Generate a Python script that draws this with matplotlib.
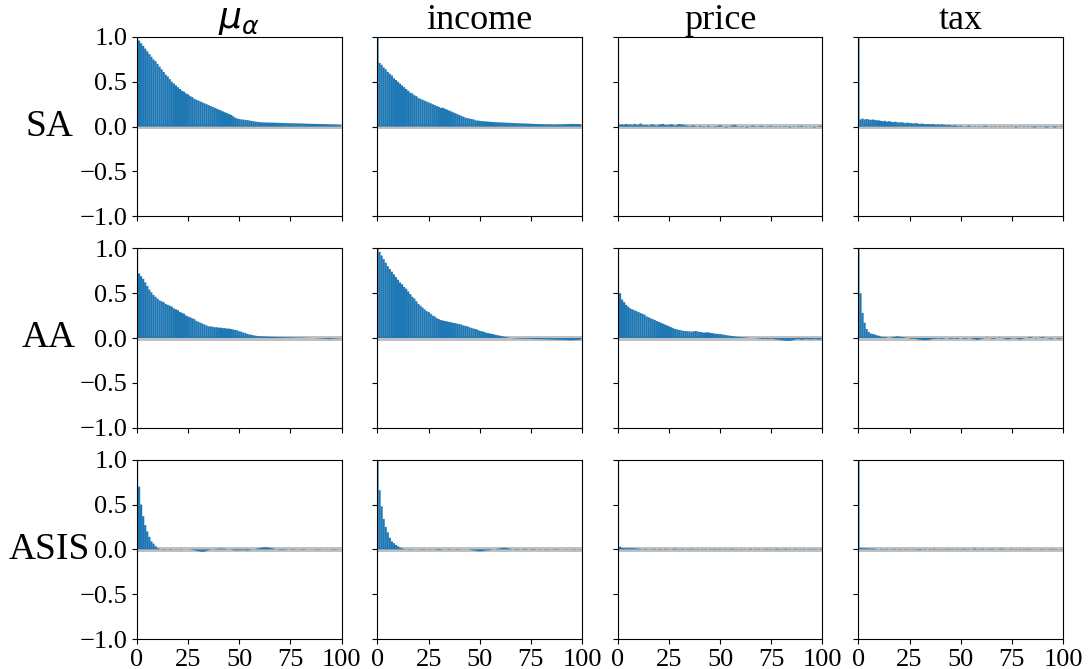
import numpy as np
import matplotlib
matplotlib.use("Agg")
import matplotlib.pyplot as plt

plt.rcParams['font.family'] = ['Liberation Serif', 'DejaVu Sans']

# autocorrelation per sampler (rows) and parameter (columns), lags 0..99
samplers = ["SA", "AA", "ASIS"]
params = [r"$\mu_\alpha$", "income", "price", "tax"]
max_lag = 100
band = 0.028

sa_mu = [1.00, 0.96, 0.93, 0.90, 0.87, 0.84, 0.81, 0.78, 0.75, 0.73,
         0.70, 0.67, 0.64, 0.61, 0.58, 0.56, 0.53, 0.50, 0.48, 0.46,
         0.44, 0.42, 0.40, 0.39, 0.37, 0.36, 0.34, 0.33, 0.31, 0.30,
         0.29, 0.28, 0.27, 0.26, 0.25, 0.24, 0.23, 0.22, 0.21, 0.20,
         0.19, 0.18, 0.17, 0.16, 0.15, 0.14, 0.13, 0.115, 0.10, 0.09,
         0.085, 0.08, 0.078, 0.075, 0.072, 0.068, 0.064, 0.06, 0.056, 0.053,
         0.05, 0.048, 0.047, 0.046, 0.045, 0.045, 0.044, 0.044, 0.043, 0.042,
         0.042, 0.041, 0.040, 0.040, 0.039, 0.038, 0.038, 0.037, 0.037, 0.036,
         0.035, 0.035, 0.034, 0.033, 0.032, 0.032, 0.031, 0.030, 0.030, 0.029,
         0.028, 0.028, 0.027, 0.026, 0.025, 0.024, 0.023, 0.022, 0.021, 0.020]

sa_inc = [1.00, 0.71, 0.69, 0.66, 0.64, 0.61, 0.59, 0.57, 0.54, 0.52,
          0.50, 0.48, 0.46, 0.44, 0.42, 0.40, 0.38, 0.37, 0.35, 0.34,
          0.32, 0.31, 0.30, 0.29, 0.28, 0.27, 0.26, 0.25, 0.24, 0.23,
          0.22, 0.21, 0.21, 0.20, 0.19, 0.18, 0.17, 0.16, 0.15, 0.14,
          0.13, 0.12, 0.11, 0.10, 0.095, 0.09, 0.085, 0.08, 0.07, 0.068,
          0.065, 0.062, 0.06, 0.058, 0.056, 0.054, 0.052, 0.05, 0.049, 0.048,
          0.047, 0.046, 0.045, 0.044, 0.043, 0.042, 0.041, 0.040, 0.039, 0.038,
          0.037, 0.036, 0.035, 0.034, 0.033, 0.032, 0.031, 0.030, 0.029, 0.028,
          0.027, 0.026, 0.025, 0.025, 0.024, 0.024, 0.023, 0.023, 0.024, 0.025,
          0.026, 0.027, 0.028, 0.029, 0.030, 0.030, 0.030, 0.029, 0.029, 0.028]

sa_price = [1.00, 0.02, 0.025, 0.02, 0.03, 0.02, 0.025, 0.015, 0.03, 0.02,
            0.02, 0.035, 0.02, 0.015, 0.02, 0.01, 0.02, 0.025, 0.015, 0.01,
            0.02, 0.025, 0.03, 0.02, 0.015, 0.02, 0.025, 0.02, 0.01, 0.02,
            0.03, 0.025, 0.02, 0.015, 0.01, 0.005, 0.01, 0.015, 0.005, 0.0,
            0.01, 0.005, -0.005, 0.0, 0.01, 0.005, 0.0, -0.005, 0.005, 0.01,
            0.015, 0.005, 0.0, -0.01, 0.0, 0.005, 0.015, 0.02, 0.01, 0.0,
            -0.005, 0.005, 0.0, -0.01, 0.0, 0.005, 0.01, 0.005, 0.0, 0.005,
            0.01, 0.005, 0.0, -0.005, 0.005, 0.01, 0.0, -0.005, 0.0, 0.005,
            0.0, -0.005, 0.005, 0.0, -0.01, 0.0, 0.005, 0.0, -0.005, 0.005,
            0.01, 0.0, -0.005, 0.0, 0.005, 0.0, -0.01, 0.0, 0.005, 0.01]

sa_tax = [1.00, 0.08, 0.09, 0.08, 0.085, 0.08, 0.075, 0.08, 0.075, 0.07,
          0.07, 0.065, 0.06, 0.065, 0.055, 0.06, 0.055, 0.05, 0.055, 0.05,
          0.045, 0.05, 0.045, 0.04, 0.045, 0.04, 0.04, 0.035, 0.04, 0.035,
          0.03, 0.035, 0.03, 0.025, 0.03, 0.025, 0.03, 0.025, 0.02, 0.025,
          0.02, 0.025, 0.02, 0.015, 0.02, 0.015, 0.01, 0.015, 0.01, 0.005,
          0.01, 0.005, 0.0, 0.005, 0.01, 0.005, 0.0, 0.005, 0.0, -0.005,
          0.0, 0.005, 0.01, 0.005, 0.0, -0.005, 0.0, 0.005, 0.0, -0.005,
          0.0, 0.005, 0.0, -0.005, 0.0, 0.005, 0.0, -0.01, 0.0, 0.005,
          0.0, -0.005, 0.0, 0.005, 0.0, -0.005, -0.01, -0.005, 0.0, 0.005,
          0.0, -0.005, -0.01, -0.005, 0.0, 0.005, -0.01, -0.005, 0.0, 0.005]

aa_mu = [1.00, 0.72, 0.69, 0.66, 0.62, 0.58, 0.54, 0.51, 0.48, 0.46,
         0.44, 0.42, 0.41, 0.40, 0.38, 0.37, 0.36, 0.35, 0.33, 0.32,
         0.31, 0.29, 0.28, 0.27, 0.25, 0.24, 0.23, 0.22, 0.21, 0.19,
         0.18, 0.17, 0.16, 0.15, 0.14, 0.13, 0.13, 0.125, 0.12, 0.12,
         0.115, 0.115, 0.11, 0.11, 0.105, 0.105, 0.10, 0.095, 0.09, 0.085,
         0.075, 0.07, 0.06, 0.055, 0.045, 0.04, 0.035, 0.03, 0.025, 0.022,
         0.02, 0.018, 0.017, 0.016, 0.015, 0.014, 0.013, 0.012, 0.012, 0.011,
         0.01, 0.01, 0.009, 0.008, 0.008, 0.007, 0.006, 0.006, 0.005, 0.005,
         0.004, 0.004, 0.003, 0.002, 0.002, 0.001, 0.0, 0.0, -0.002, -0.004,
         -0.005, -0.006, -0.008, -0.01, -0.012, -0.01, -0.008, -0.006, -0.004, -0.003]

aa_inc = [1.00, 0.96, 0.92, 0.88, 0.84, 0.80, 0.77, 0.74, 0.71, 0.68,
          0.65, 0.62, 0.60, 0.57, 0.55, 0.52, 0.49, 0.46, 0.44, 0.41,
          0.38, 0.36, 0.34, 0.32, 0.30, 0.29, 0.27, 0.25, 0.24, 0.22,
          0.21, 0.20, 0.195, 0.19, 0.185, 0.18, 0.175, 0.17, 0.165, 0.16,
          0.155, 0.15, 0.14, 0.135, 0.13, 0.12, 0.11, 0.105, 0.10, 0.09,
          0.08, 0.075, 0.07, 0.06, 0.055, 0.05, 0.045, 0.04, 0.035, 0.03,
          0.025, 0.02, 0.015, 0.01, 0.005, 0.0, -0.002, -0.004, -0.005, -0.006,
          -0.007, -0.008, -0.008, -0.009, -0.01, -0.01, -0.011, -0.012, -0.012, -0.013,
          -0.013, -0.014, -0.015, -0.015, -0.016, -0.017, -0.018, -0.019, -0.02, -0.021,
          -0.022, -0.023, -0.024, -0.025, -0.026, -0.025, -0.024, -0.022, -0.02, -0.018]

aa_price = [1.00, 0.50, 0.43, 0.40, 0.37, 0.35, 0.33, 0.32, 0.31, 0.30,
            0.29, 0.28, 0.27, 0.26, 0.24, 0.23, 0.22, 0.21, 0.20, 0.19,
            0.18, 0.17, 0.16, 0.15, 0.14, 0.13, 0.12, 0.11, 0.10, 0.095,
            0.09, 0.085, 0.08, 0.078, 0.076, 0.074, 0.072, 0.075, 0.078, 0.072,
            0.068, 0.065, 0.06, 0.062, 0.064, 0.058, 0.055, 0.05, 0.048, 0.046,
            0.044, 0.04, 0.036, 0.032, 0.028, 0.025, 0.022, 0.018, 0.015, 0.012,
            0.01, 0.008, 0.006, 0.004, 0.002, 0.0, -0.002, 0.0, -0.004, -0.006,
            -0.008, -0.01, -0.008, -0.012, -0.01, -0.008, -0.012, -0.015, -0.018, -0.022,
            -0.025, -0.028, -0.03, -0.032, -0.03, -0.028, -0.02, -0.015, -0.012, -0.015,
            -0.018, -0.015, -0.012, -0.014, -0.016, -0.015, -0.012, -0.014, -0.016, -0.015]

aa_tax = [1.00, 0.50, 0.28, 0.17, 0.10, 0.067, 0.05, 0.045, 0.04, 0.03,
          0.025, 0.015, 0.01, 0.01, 0.005, 0.0, 0.005, 0.01, 0.015, 0.02,
          0.015, 0.012, 0.01, 0.005, 0.0, -0.005, -0.008, -0.01, -0.012, -0.015,
          -0.02, -0.022, -0.025, -0.025, -0.022, -0.018, -0.012, -0.01, -0.008, -0.005,
          -0.008, -0.01, -0.005, 0.0, -0.005, -0.01, -0.008, -0.005, -0.01, -0.005,
          0.0, -0.005, -0.01, -0.005, 0.0, -0.005, -0.01, -0.015, -0.02, -0.015,
          -0.01, -0.005, 0.0, 0.005, 0.0, -0.005, -0.01, -0.005, 0.0, 0.005,
          0.0, -0.005, -0.01, -0.015, -0.01, -0.005, 0.0, -0.005, -0.01, -0.015,
          -0.01, -0.005, 0.0, 0.005, 0.01, 0.005, 0.0, -0.005, 0.0, 0.005,
          0.01, 0.005, 0.0, -0.005, -0.01, -0.005, 0.0, -0.005, -0.01, -0.005]

asis_mu = [1.00, 0.70, 0.50, 0.37, 0.27, 0.20, 0.14, 0.09, 0.065, 0.037,
           0.015, 0.005, 0.0, -0.005, -0.003, 0.0, -0.004, -0.005, 0.0, 0.003,
           0.0, -0.004, -0.003, 0.0, 0.002, 0.0, -0.003, -0.006, -0.01, -0.015,
           -0.02, -0.025, -0.028, -0.025, -0.015, -0.008, -0.004, 0.0, 0.003, 0.006,
           0.008, 0.01, 0.008, 0.006, 0.004, 0.0, -0.004, -0.008, -0.01, -0.012,
           -0.01, -0.01, -0.008, -0.01, -0.012, -0.008, -0.004, 0.0, 0.004, 0.01,
           0.015, 0.02, 0.022, 0.024, 0.022, 0.018, 0.012, 0.006, 0.0, -0.004,
           -0.006, -0.008, -0.006, -0.004, 0.0, 0.003, 0.005, 0.004, 0.002, 0.0,
           -0.003, -0.005, -0.004, -0.002, 0.0, 0.002, 0.0, -0.002, -0.004, -0.003,
           -0.002, 0.0, 0.002, 0.003, 0.0, -0.003, -0.005, -0.004, -0.002, 0.0]

asis_inc = [1.00, 0.66, 0.48, 0.34, 0.25, 0.19, 0.13, 0.09, 0.07, 0.05,
            0.035, 0.02, 0.01, 0.005, 0.0, -0.002, -0.004, -0.003, 0.0, 0.002,
            0.0, -0.003, -0.005, -0.004, 0.0, 0.003, 0.004, 0.0, -0.004, -0.006,
            -0.008, -0.006, -0.003, 0.0, 0.003, 0.005, 0.003, 0.0, -0.003, -0.005,
            -0.004, -0.002, 0.0, 0.002, 0.0, -0.004, -0.008, -0.012, -0.016, -0.02,
            -0.022, -0.02, -0.016, -0.012, -0.01, -0.008, -0.004, 0.0, 0.004, 0.008,
            0.012, 0.016, 0.018, 0.016, 0.012, 0.006, 0.0, -0.004, -0.006, -0.004,
            0.0, 0.004, 0.006, 0.004, 0.0, -0.004, -0.006, -0.004, 0.0, 0.003,
            0.002, 0.0, -0.003, -0.004, -0.002, 0.0, 0.003, 0.005, 0.004, 0.002,
            0.0, -0.002, -0.003, -0.002, 0.0, 0.002, 0.004, 0.003, 0.0, -0.003]

asis_price = [1.00, 0.03, 0.015, 0.015, 0.012, 0.015, 0.012, 0.014, 0.012, 0.01,
              0.008, 0.005, 0.0, -0.005, 0.005, 0.0, -0.004, 0.003, 0.006, 0.0,
              -0.005, 0.004, 0.0, 0.006, 0.003, -0.004, 0.0, 0.005, 0.008, 0.002,
              -0.004, 0.004, 0.006, 0.0, -0.005, 0.003, 0.007, 0.002, -0.003, 0.004,
              0.0, -0.006, 0.003, 0.005, 0.0, -0.004, 0.002, 0.006, 0.004, -0.002,
              -0.005, 0.0, 0.005, 0.003, -0.003, 0.004, 0.007, 0.002, -0.004, 0.0,
              0.005, 0.002, -0.004, 0.0, 0.004, 0.006, 0.0, -0.005, 0.003, 0.005,
              0.0, -0.003, 0.004, 0.006, 0.002, -0.004, 0.0, 0.005, 0.008, 0.003,
              -0.002, 0.004, 0.007, 0.002, -0.005, 0.0, 0.004, 0.006, 0.001, -0.004,
              0.003, 0.006, 0.0, -0.005, 0.002, 0.006, 0.003, -0.004, 0.0, 0.005]

asis_tax = [1.00, 0.015, 0.012, 0.014, 0.01, 0.012, 0.008, 0.01, 0.006, 0.004,
            0.0, 0.005, -0.003, 0.004, 0.006, 0.0, -0.004, 0.003, 0.005, 0.0,
            -0.005, 0.003, 0.0, 0.005, 0.002, -0.004, 0.0, 0.004, -0.002, -0.006,
            -0.008, -0.004, 0.002, 0.005, 0.0, -0.005, 0.003, 0.006, 0.002, -0.003,
            0.004, 0.0, -0.005, 0.003, 0.006, 0.002, -0.004, 0.0, 0.005, 0.003,
            -0.003, 0.004, 0.007, 0.002, -0.004, 0.0, 0.005, 0.008, 0.003, -0.002,
            0.004, 0.006, 0.0, -0.005, 0.003, 0.007, 0.004, -0.002, 0.0, 0.005,
            0.008, 0.004, -0.003, 0.0, 0.004, 0.006, 0.001, -0.004, 0.002, 0.005,
            0.0, -0.005, 0.002, 0.006, 0.003, -0.003, 0.0, 0.004, 0.0, -0.005,
            0.002, 0.005, 0.0, -0.004, 0.003, 0.006, 0.002, -0.003, 0.0, 0.004]

acf = [[sa_mu, sa_inc, sa_price, sa_tax],
       [aa_mu, aa_inc, aa_price, aa_tax],
       [asis_mu, asis_inc, asis_price, asis_tax]]

fig, axes = plt.subplots(3, 4, figsize=(10.91, 6.69), dpi=100,
                         sharex=True, sharey=True)
fig.subplots_adjust(left=0.1256, right=0.9743, top=0.9447, bottom=0.0448,
                    wspace=0.1756, hspace=0.179)

lags = np.arange(max_lag)
for i, row in enumerate(acf):
    for j, vals in enumerate(row):
        ax = axes[i, j]
        ax.fill_between([0, max_lag], -band, band, color="#c0c0c0",
                        lw=0, zorder=1)
        lines = ax.vlines(lags, 0, np.array(vals), colors="C0", lw=1.6,
                          zorder=2)
        lines.set_snap(False)
        ax.set_xlim(0, max_lag)
        ax.set_ylim(-1, 1)
        ax.set_xticks([0, 25, 50, 75, 100])
        ax.set_yticks([-1.0, -0.5, 0.0, 0.5, 1.0])
        ax.tick_params(labelsize=19)
        if i == 0:
            ax.set_title(params[j], fontsize=26)
        if j == 0:
            ax.text(-0.43, 0.5, samplers[i], transform=ax.transAxes,
                    fontsize=27, ha="center", va="center")

fig.savefig("out.png", dpi=100)
